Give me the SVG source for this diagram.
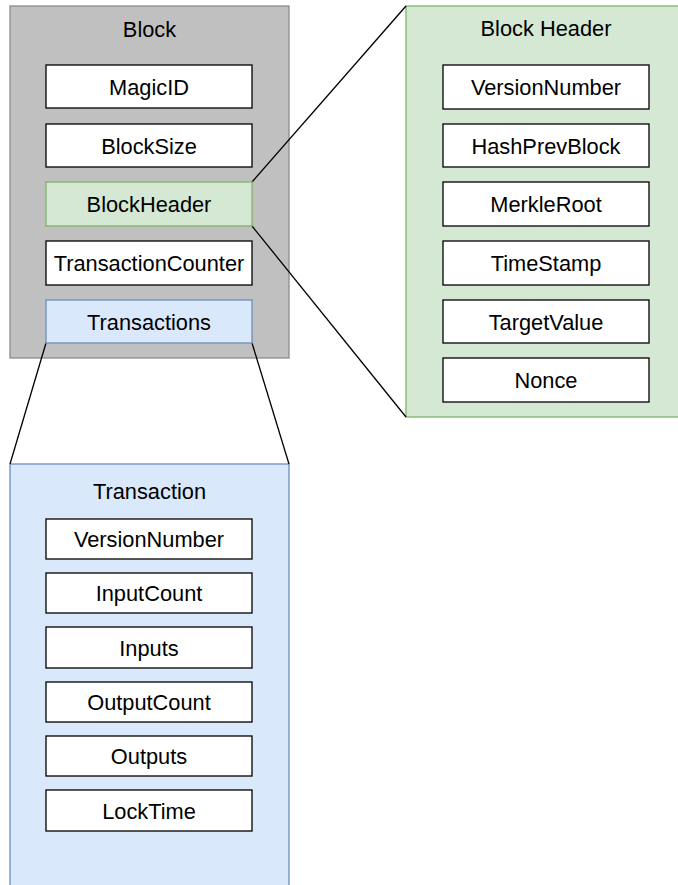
<svg xmlns="http://www.w3.org/2000/svg" width="678" height="885" viewBox="0 0 678 885">
<style>
text{font-family:"Liberation Sans",Arial,Helvetica,sans-serif;font-size:21.8px;fill:#000;text-anchor:middle}
.item{fill:#fff;stroke:#000;stroke-width:1.3}
.grey{fill:#c0c0c0;stroke:#8c8c8c;stroke-width:1.3}
.green{fill:#d5e8d4;stroke:#82b366;stroke-width:1.3}
.blue{fill:#dae8fc;stroke:#6c8ebf;stroke-width:1.3}
.conn{fill:none;stroke:#000;stroke-width:1.3}
</style>
<g id="block">
<rect class="grey" x="10" y="6" width="279" height="352"/>
<text x="149.5" y="36.5">Block</text>
</g>
<g id="block-header">
<rect class="green" x="406" y="6" width="290" height="411"/>
<text x="546" y="36">Block Header</text>
</g>
<g id="transaction">
<rect class="blue" x="10" y="464" width="279" height="440"/>
<text x="149.5" y="499">Transaction</text>
</g>
<g id="connectors">
<line class="conn" x1="252" y1="182" x2="406" y2="6"/>
<line class="conn" x1="252" y1="226" x2="406" y2="417"/>
<line class="conn" x1="46" y1="343" x2="10" y2="464"/>
<line class="conn" x1="252" y1="343" x2="289" y2="464"/>
</g>
<g id="magicid"><rect class="item" x="46" y="65" width="206" height="43"/><text x="149" y="94.5">MagicID</text></g>
<g id="blocksize"><rect class="item" x="46" y="124" width="206" height="43"/><text x="149" y="153.5">BlockSize</text></g>
<g id="blockheader-field"><rect class="green" x="46" y="182" width="206" height="44"/><text x="149" y="212">BlockHeader</text></g>
<g id="transactioncounter"><rect class="item" x="46" y="241" width="206" height="44"/><text x="149" y="271">TransactionCounter</text></g>
<g id="transactions-field"><rect class="blue" x="46" y="300" width="206" height="43"/><text x="149" y="329.5">Transactions</text></g>
<g id="bh-versionnumber"><rect class="item" x="443" y="65" width="206" height="44"/><text x="546" y="95">VersionNumber</text></g>
<g id="bh-hashprevblock"><rect class="item" x="443" y="124" width="206" height="43"/><text x="546" y="153.5">HashPrevBlock</text></g>
<g id="bh-merkleroot"><rect class="item" x="443" y="182" width="206" height="44"/><text x="546" y="212">MerkleRoot</text></g>
<g id="bh-timestamp"><rect class="item" x="443" y="241" width="206" height="44"/><text x="546" y="271">TimeStamp</text></g>
<g id="bh-targetvalue"><rect class="item" x="443" y="300" width="206" height="43"/><text x="546" y="329.5">TargetValue</text></g>
<g id="bh-nonce"><rect class="item" x="443" y="358" width="206" height="44"/><text x="546" y="388">Nonce</text></g>
<g id="tx-versionnumber"><rect class="item" x="46" y="519" width="206" height="40"/><text x="149" y="547">VersionNumber</text></g>
<g id="tx-inputcount"><rect class="item" x="46" y="573" width="206" height="40"/><text x="149" y="601">InputCount</text></g>
<g id="tx-inputs"><rect class="item" x="46" y="627" width="206" height="41"/><text x="149" y="655.5">Inputs</text></g>
<g id="tx-outputcount"><rect class="item" x="46" y="682" width="206" height="40"/><text x="149" y="710">OutputCount</text></g>
<g id="tx-outputs"><rect class="item" x="46" y="736" width="206" height="40"/><text x="149" y="764">Outputs</text></g>
<g id="tx-locktime"><rect class="item" x="46" y="790" width="206" height="41"/><text x="149" y="818.5">LockTime</text></g>
</svg>
